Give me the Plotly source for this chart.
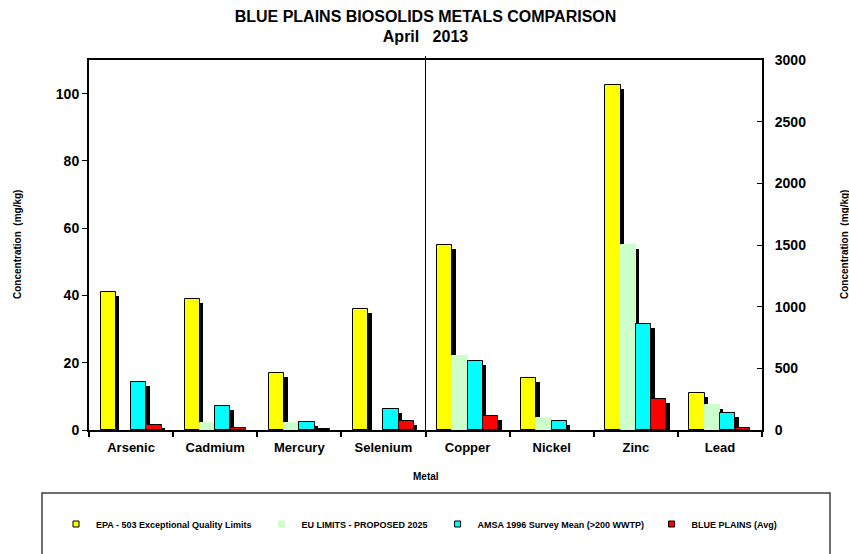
import plotly.graph_objects as go

# ---------------- data ----------------
metals = ["Arsenic", "Cadmium", "Mercury", "Selenium", "Copper", "Nickel", "Zinc", "Lead"]
epa_limits = [41, 39, 17, 36, 1500, 420, 2800, 300]
eu_limits = [None, 2, 2, None, 600, 100, 1500, 200]
amsa_mean = [14.3, 7.2, 2.3, 6.2, 558, 70, 862, 135]
blue_plains = [1.5, 0.7, 0.4, 2.7, 113, None, 248, 16]

series_names = [
    "EPA - 503 Exceptional Quality Limits",
    "EU LIMITS - PROPOSED 2025",
    "AMSA 1996 Survey Mean (>200 WWTP)",
    "BLUE PLAINS (Avg)",
]
series_values = [epa_limits, eu_limits, amsa_mean, blue_plains]
series_colors = ["#FFFF00", "#CCFFCC", "#00FFFF", "#FF0000"]
series_lines = ["#000000", "#CCFFCC", "#000000", "#000000"]

left_ticks = [0, 20, 40, 60, 80, 100]
right_ticks = [0, 500, 1000, 1500, 2000, 2500, 3000]
left_range = [0, 110]
right_range = [0, 3000]

# ---------------- layout constants ----------------
FONT = "Liberation Sans, Arial, sans-serif"
W, H = 849, 554
ML, MR, MT, MB = 89, 87, 60, 124
PLOT_W = W - ML - MR
PLOT_H = H - MT - MB
BAR_W = 0.181
SHADOW_W = 0.046
SHADOW_PX = 4
LEGEND_PAD = ["\u00a0\u00a0", "\u00a0\u00a0", "\u00a0", ""]

fig = go.Figure()

n_left = 4
sides = [
    (metals[:n_left], slice(0, n_left), "y", left_range),
    (metals[n_left:], slice(n_left, len(metals)), "y2", right_range),
]

for cats, sl, yax, rng in sides:
    drop = SHADOW_PX * (rng[1] - rng[0]) / PLOT_H
    for i, (name, vals, col, lc) in enumerate(zip(series_names, series_values, series_colors, series_lines)):
        v = vals[sl]
        off = -0.362 + i * BAR_W
        shadow = [None if (x is None) else max(x - drop, 0) for x in v]
        fig.add_trace(go.Bar(
            x=cats, y=shadow, yaxis=yax, offset=off + BAR_W - 0.004, width=SHADOW_W,
            marker=dict(color="#000000", line=dict(width=0)),
            showlegend=False, hoverinfo="skip",
        ))
        fig.add_trace(go.Bar(
            x=cats, y=v, yaxis=yax, offset=off, width=BAR_W, name=name,
            marker=dict(color=col, line=dict(color=lc, width=1)),
            showlegend=False,
        ))

# legend entries (small square swatches)
for name, col, lc, pad in zip(series_names, series_colors, series_lines, LEGEND_PAD):
    fig.add_trace(go.Scatter(
        x=[None], y=[None], mode="markers", name=name + pad,
        marker=dict(symbol="square", size=6, color=col,
                    line=dict(color=("#000000" if lc == "#000000" else col), width=1)),
        showlegend=True,
    ))

def px_x(p):
    return (p - ML) / PLOT_W

def px_y(p):
    return (H - MB - p) / PLOT_H

fig.update_layout(
    width=W, height=H,
    margin=dict(l=ML, r=MR, t=MT, b=MB, autoexpand=False),
    plot_bgcolor="white", paper_bgcolor="white",
    barmode="overlay", bargap=0,
    font=dict(family=FONT, color="black"),
    title=dict(
        text="BLUE PLAINS BIOSOLIDS METALS COMPARISON<br>April\u00a0\u00a0\u00a02013",
        x=0.5, xref="paper", xanchor="center",
        y=1 - 21.5 / H, yref="container", yanchor="middle",
        font=dict(family=FONT, size=16, weight="bold", color="black"),
    ),
    xaxis=dict(
        type="category", categoryorder="array", categoryarray=metals,
        range=[-0.5, len(metals) - 0.5],
        tickson="boundaries", ticks="outside", ticklen=5, tickwidth=1.5, tickcolor="black",
        ticklabelstandoff=4,
        showline=True, linecolor="black", linewidth=2, mirror=True,
        showgrid=False, zeroline=False,
        tickfont=dict(family=FONT, size=13, weight="bold", color="black"),
    ),
    yaxis=dict(
        range=left_range, tickvals=left_ticks, ticktext=[str(t) for t in left_ticks],
        ticks="outside", ticklen=5, tickwidth=1, tickcolor="black",
        showline=True, linecolor="black", linewidth=2,
        showgrid=False, zeroline=False,
        tickfont=dict(family=FONT, size=14, weight="bold", color="black"),
    ),
    yaxis2=dict(
        range=right_range, tickvals=right_ticks, ticktext=[str(t) for t in right_ticks],
        overlaying="y", side="right", anchor="x",
        ticks="inside", ticklen=5, tickwidth=1, tickcolor="black",
        ticklabelstandoff=8,
        showline=True, linecolor="black", linewidth=2,
        showgrid=False, zeroline=False,
        tickfont=dict(family=FONT, size=14, weight="bold", color="black"),
    ),
    legend=dict(
        orientation="h", x=px_x(56), xanchor="left", y=px_y(524), yanchor="middle",
        bgcolor="rgba(0,0,0,0)", borderwidth=0,
        font=dict(family=FONT, size=9, weight="bold", color="black"),
        itemwidth=30, traceorder="normal",
    ),
    shapes=[
        dict(type="line", xref="paper", yref="paper", x0=0.5, x1=0.5, y0=0, y1=1 + 4 / PLOT_H,
             line=dict(color="black", width=1)),
        dict(type="rect", xref="paper", yref="paper",
             x0=px_x(42), x1=px_x(830), y0=px_y(H + 20), y1=px_y(493),
             line=dict(color="#404040", width=1.5), fillcolor="rgba(0,0,0,0)"),
    ],
    annotations=[
        dict(text="Concentration\u00a0 (mg/kg)", xref="paper", yref="paper",
             x=px_x(17), y=0.5, textangle=-90, showarrow=False,
             xanchor="center", yanchor="middle",
             font=dict(family=FONT, size=10, weight="bold", color="black")),
        dict(text="Concentration\u00a0 (mg/kg)", xref="paper", yref="paper",
             x=px_x(844), y=0.5, textangle=-90, showarrow=False,
             xanchor="center", yanchor="middle",
             font=dict(family=FONT, size=10, weight="bold", color="black")),
        dict(text="Metal", xref="paper", yref="paper",
             x=0.5, y=px_y(476), showarrow=False,
             xanchor="center", yanchor="middle",
             font=dict(family=FONT, size=10, weight="bold", color="black")),
    ],
)

fig.write_html("out.html")
